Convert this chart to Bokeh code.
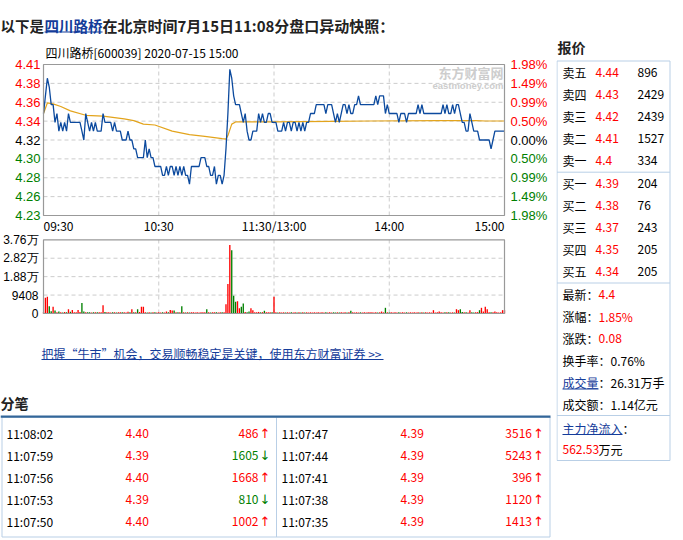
from bokeh.plotting import figure
from bokeh.layouts import column, row
from bokeh.models import ColumnDataSource, Range1d
from bokeh.embed import file_html
from bokeh.resources import INLINE
from bokeh.core.properties import value, field

# ---------------- data ----------------
stock_name = "四川路桥"
stock_code = "600039"
snapshot_time = "2020-07-15 15:00"
prev_close = 4.32

# one price per minute, 09:30 ... 11:30/13:00 ... 15:00 (241 points)
price = [
    4.35, 4.37, 4.39, 4.38, 4.36, 4.36, 4.34, 4.35, 4.33, 4.34,
    4.33, 4.34, 4.33, 4.35, 4.34, 4.34, 4.34, 4.34, 4.34, 4.34,
    4.33, 4.32, 4.35, 4.34, 4.33, 4.34, 4.33, 4.34, 4.33, 4.33,
    4.33, 4.35, 4.34, 4.34, 4.34, 4.34, 4.33, 4.34, 4.33, 4.33,
    4.33, 4.32, 4.32, 4.32, 4.33, 4.32, 4.32, 4.31, 4.31, 4.30,
    4.30, 4.30, 4.30, 4.32, 4.30, 4.31, 4.30, 4.30, 4.29, 4.29,
    4.29, 4.29, 4.28, 4.28, 4.29, 4.28, 4.29, 4.29, 4.28, 4.29,
    4.28, 4.29, 4.28, 4.29, 4.28, 4.28, 4.27, 4.29, 4.29, 4.29,
    4.29, 4.29, 4.30, 4.30, 4.30, 4.29, 4.29, 4.28, 4.28, 4.29,
    4.27, 4.28, 4.28, 4.27, 4.28, 4.31, 4.35, 4.40, 4.39, 4.37,
    4.36, 4.36, 4.36, 4.35, 4.34, 4.35, 4.33, 4.32, 4.32, 4.33,
    4.33, 4.33, 4.35, 4.34, 4.35, 4.34, 4.34, 4.35, 4.35, 4.34,
    4.34,
    4.34, 4.33, 4.33, 4.33, 4.34, 4.33, 4.34, 4.34, 4.33, 4.34,
    4.34, 4.33, 4.34, 4.33, 4.34, 4.33, 4.34, 4.34, 4.35, 4.35,
    4.35, 4.36, 4.36, 4.36, 4.36, 4.36, 4.35, 4.36, 4.36, 4.36,
    4.35, 4.34, 4.35, 4.34, 4.35, 4.36, 4.36, 4.35, 4.36, 4.35,
    4.35, 4.36, 4.36, 4.37, 4.36, 4.36, 4.36, 4.36, 4.36, 4.36,
    4.36, 4.36, 4.37, 4.36, 4.37, 4.37, 4.37, 4.35, 4.36, 4.35,
    4.35, 4.35, 4.35, 4.35, 4.34, 4.35, 4.35, 4.35, 4.34, 4.35,
    4.35, 4.35, 4.35, 4.35, 4.36, 4.35, 4.36, 4.35, 4.35, 4.35,
    4.35, 4.35, 4.35, 4.35, 4.35, 4.35, 4.35, 4.36, 4.35, 4.36,
    4.35, 4.35, 4.36, 4.35, 4.36, 4.36, 4.35, 4.34, 4.34, 4.33,
    4.33, 4.35, 4.34, 4.33, 4.33, 4.33, 4.32, 4.32, 4.32, 4.32,
    4.32, 4.32, 4.31, 4.32, 4.33, 4.33, 4.33, 4.33, 4.33, 4.33,
]
minutes = list(range(len(price)))

avg_minutes = [0, 2, 5, 9, 14, 22, 31, 42, 47, 52, 58, 67, 76, 84, 93, 95,
               96, 98, 100, 120, 150, 170, 205, 225, 230, 240]
avg_price = [4.350, 4.362, 4.361, 4.358, 4.353, 4.348, 4.347, 4.344, 4.342,
             4.338, 4.337, 4.330, 4.326, 4.324, 4.3215, 4.321, 4.325, 4.338,
             4.3405, 4.3405, 4.341, 4.3415, 4.342, 4.342, 4.3415, 4.3415]

volume = [
    600, 8000, 8500, 3700, 1200, 3400, 1500, 700, 1000, 600,
    500, 800, 600, 2200, 900, 1800, 700, 600, 1800, 800,
    5300, 1000, 600, 700, 600, 500, 600, 700, 600, 600,
    700, 4250, 800, 600, 600, 500, 700, 600, 500, 600,
    600, 700, 600, 500, 900, 600, 2200, 700, 700, 2200,
    800, 3400, 3400, 600, 500, 600, 500, 600, 700, 500,
    600, 500, 600, 500, 1000, 700, 1800, 1500, 1500, 700,
    600, 700, 3700, 600, 500, 600, 500, 700, 600, 500,
    600, 500, 600, 700, 600, 2200, 600, 500, 700, 600,
    600, 500, 600, 700, 600, 4750, 15000, 35000, 32300, 9000,
    5950, 6300, 2700, 3400, 5100, 800, 700, 1000, 2700, 1700,
    700, 600, 800, 600, 700, 1400, 600, 700, 600, 600,
    8500, 600, 500, 600, 500, 600, 500, 600, 500, 600,
    500, 600, 500, 600, 500, 700, 500, 600, 500, 600,
    500, 600, 500, 600, 500, 600, 500, 600, 500, 600,
    500, 600, 500, 600, 500, 600, 500, 600, 500, 600,
    1400, 600, 500, 600, 500, 600, 500, 600, 500, 600,
    700, 600, 500, 600, 500, 600, 1000, 600, 2900, 600,
    500, 600, 500, 600, 500, 600, 500, 600, 500, 600,
    500, 600, 500, 600, 500, 600, 500, 600, 500, 600,
    500, 600, 500, 1700, 500, 600, 1000, 600, 500, 600,
    700, 600, 500, 600, 500, 2200, 1700, 2200, 800, 600,
    600, 500, 1700, 600, 500, 600, 700, 1700, 2900, 1000,
    3400, 2200, 600, 700, 600, 1000, 600, 500, 600, 1700,
    1700,
]

pct_levels = [1.98, 1.485, 0.99, 0.495, 0.0, -0.495, -0.99, -1.485, -1.98]
price_tick_labels = ["4.41", "4.38", "4.36", "4.34", "4.32", "4.30", "4.28", "4.26", "4.23"]
pct_tick_labels = ["1.98%", "1.49%", "0.99%", "0.50%", "0.00%", "0.50%", "0.99%", "1.49%", "1.98%"]
time_ticks = [0, 60, 120, 180, 240]
time_tick_labels = ["09:30", "10:30", "11:30/13:00", "14:00", "15:00"]
vol_ticks = [0, 9408, 18816, 28224, 37632]
vol_tick_labels = ["0", "9408", "1.88万", "2.82万", "3.76万"]

ask_labels = ["卖五", "卖四", "卖三", "卖二", "卖一"]
ask_prices = ["4.44", "4.43", "4.42", "4.41", "4.4"]
ask_vols = ["896", "2429", "2439", "1527", "334"]
bid_labels = ["买一", "买二", "买三", "买四", "买五"]
bid_prices = ["4.39", "4.38", "4.37", "4.35", "4.34"]
bid_vols = ["204", "76", "243", "205", "205"]

stat_labels = ["最新：", "涨幅：", "涨跌：", "换手率：", "成交量", "成交额："]
stat_values = ["4.4", "1.85%", "0.08", "0.76%", "26.31万手", "1.14亿元"]
flow_label = "主力净流入"
flow_value = "562.53"
flow_unit = "万元"

trade_times = ["11:08:02", "11:07:59", "11:07:56", "11:07:53", "11:07:50",
               "11:07:47", "11:07:44", "11:07:41", "11:07:38", "11:07:35"]
trade_prices = ["4.40", "4.39", "4.40", "4.39", "4.40",
                "4.39", "4.39", "4.39", "4.39", "4.39"]
trade_vols = ["486", "1605", "1668", "810", "1002",
              "3516", "5243", "396", "1120", "1413"]
trade_dirs = ["up", "down", "up", "down", "up", "up", "up", "up", "up", "up"]

headline_parts = ["以下是", "四川路桥", "在北京时间7月15日11:08分盘口异动快照："]
link_text = "把握“牛市”机会，交易顺畅稳定是关键，使用东方财富证券 >>"

# ---------------- style / layout ----------------
RED = "#ff0000"
GREEN = "#008000"
BLACK = "#000000"
LINK = "#143c9a"
BORDER = "#b9cfe6"
FRAME = "#999999"
GRID = "#cccccc"
CN = "Noto Sans CJK SC"
AX = "Liberation Sans"
LEFT_W = 556
RIGHT_W = 127
CHART_H = 282                 # canvas rows 40 .. 322 of the page
FX0, FX1 = 43, 504            # chart frames, left / right (canvas px)
P_TOP, P_BOT = 24, 175        # price frame, top / bottom (canvas px)
V_TOP, V_BOT = 199.3, 273     # volume frame, top / bottom (canvas px)
SX = (FX1 - FX0) / 240        # pixels per minute


def base_fig(w, h, xr, yr):
    p = figure(width=w, height=h, x_range=xr, y_range=yr, min_border=0,
               x_axis_location=None, y_axis_location=None, toolbar_location=None,
               output_backend="svg", outline_line_color=None)
    p.grid.visible = False
    return p


def canvas_fig(w, h):
    return base_fig(w, h, Range1d(0, w), Range1d(h, 0))


def band_range(y0, y1, top_px, bot_px):
    k = (bot_px - top_px) / (y1 - y0)
    return Range1d(y0 - (CHART_H - bot_px) / k, y1 + top_px / k), k


def txt(p, xs, ys, texts, color=BLACK, size="12px", align="left", bold=False,
        font=CN, yr="default"):
    n = len(texts)
    src = ColumnDataSource(dict(x=xs, y=ys, t=texts,
                                c=color if isinstance(color, list) else [color] * n))
    p.text(x="x", y="y", text="t", source=src, text_color=field("c"),
           text_font=value(font), text_font_size=size, text_align=align,
           text_baseline="middle", text_font_style="bold" if bold else "normal",
           y_range_name=yr)


def grid_lines(p, y0, y1, yticks, yr):
    inner_t = time_ticks[1:-1]
    p.segment(x0=inner_t, y0=[y0] * len(inner_t), x1=inner_t, y1=[y1] * len(inner_t),
              line_color=GRID, line_dash="4 3", line_width=1, y_range_name=yr)
    p.segment(x0=[0] * len(yticks), y0=yticks, x1=[240] * len(yticks), y1=yticks,
              line_color=GRID, line_dash="4 3", line_width=1, y_range_name=yr)


def frame(p, y0, y1, yr):
    p.quad(left=[0], right=[240], bottom=[y0], top=[y1], fill_color=None,
           line_color=FRAME, line_width=1.2, y_range_name=yr)


# ---------------- header ----------------
head = canvas_fig(LEFT_W, 40)
txt(head, [0], [24.5], [headline_parts[0]], color="#222222", size="14.5px", bold=True)
txt(head, [44], [24.5], [headline_parts[1]], color=LINK, size="14.5px", bold=True)
head.segment(x0=[44], y0=[31.5], x1=[102], y1=[31.5], line_color=LINK, line_width=1)
txt(head, [102], [24.5], [headline_parts[2]], color="#222222", size="15px", bold=True)

# ---------------- price + volume chart (one canvas, two y ranges) ----------------
lo = prev_close * (1 - 0.0198)
hi = prev_close * (1 + 0.0198)
vmax = vol_ticks[-1]
price_range, kp = band_range(lo, hi, P_TOP, P_BOT)
vol_range, kv = band_range(0, vmax, V_TOP, V_BOT)
xr = Range1d(-FX0 / SX, 240 + (LEFT_W - FX1) / SX)
ch = base_fig(LEFT_W, CHART_H, xr, price_range)
ch.extra_y_ranges = {"vol": vol_range}

tick_y = [prev_close * (1 + v / 100) for v in pct_levels]
tick_colors = [RED if v > 0 else (GREEN if v < 0 else BLACK) for v in pct_levels]
grid_lines(ch, lo, hi, tick_y[1:-1], "default")

txt(ch, [240 - 1 / SX], [hi - 8 / kp], ["东方财富网"], color="#cdcdcd", size="13px",
    align="right", bold=True)
txt(ch, [240 - 1 / SX], [hi - 21 / kp], ["eastmoney.com"], color="#cdcdcd", size="9.5px",
    align="right", bold=True, font=AX)

ch.line(avg_minutes, avg_price, line_color="#e3a41c", line_width=1.2)
ch.line(minutes, price, line_color="#0c4a9e", line_width=1.3)
frame(ch, lo, hi, "default")

txt(ch, [-3 / SX] * len(tick_y), tick_y, price_tick_labels, color=tick_colors,
    size="13px", align="right", font=AX)
txt(ch, [240 + 6 / SX] * len(tick_y), tick_y, pct_tick_labels, color=tick_colors,
    size="13px", align="left", font=AX)
aligns = ["left", "center", "center", "center", "right"]
for t, lab, a in zip(time_ticks, time_tick_labels, aligns):
    txt(ch, [t], [lo - 10 / kp], [lab], align=a)
txt(ch, [2 / SX], [hi + 12 / kp], [f"{stock_name}[{stock_code}] {snapshot_time}"])

# volume
grid_lines(ch, 0, vmax, vol_ticks[1:-1], "vol")
bar_colors = [RED if i == 0 or price[i] >= price[i - 1] else GREEN for i in minutes]
ch.vbar(x=minutes, bottom=0, top=volume, width=0.7, fill_color=bar_colors,
        line_color=None, y_range_name="vol")
frame(ch, 0, vmax, "vol")
txt(ch, [-5 / SX] * len(vol_ticks), vol_ticks, vol_tick_labels, size="12px",
    align="right", font=AX, yr="vol")

# ---------------- bottom: link + trades ----------------
bot = canvas_fig(LEFT_W, 218)
txt(bot, [41], [31], [link_text], color=LINK, size="12px")
bot.segment(x0=[41], y0=[37], x1=[383], y1=[37], line_color=LINK, line_width=1)
txt(bot, [0], [80], ["分笔"], color="#222222", size="14px", bold=True)
bot.quad(left=[1.5], right=[549.5], top=[94.5], bottom=[214.5], fill_color=None,
         line_color=BORDER, line_width=1)
bot.segment(x0=[276], y0=[94.5], x1=[276], y1=[214.5], line_color=BORDER, line_width=1)
bot.segment(x0=[0], y0=[94.2], x1=[550], y1=[94.2], line_color="#336699", line_width=2.2)
row_y = [111.3, 133, 154.7, 177, 198.7]
for half, (tx, px, vx) in enumerate([(6, 125, 258), (281, 400, 531.5)]):
    sl = slice(half * 5, half * 5 + 5)
    cols = [RED if d == "up" else GREEN for d in trade_dirs[sl]]
    arrows = ["↑" if d == "up" else "↓" for d in trade_dirs[sl]]
    txt(bot, [tx] * 5, row_y, trade_times[sl], color=BLACK)
    txt(bot, [px] * 5, row_y, trade_prices[sl], color=RED)
    txt(bot, [vx] * 5, row_y, trade_vols[sl], color=cols, align="right")
    txt(bot, [vx + 1] * 5, row_y, arrows, color=cols, size="13px", font="DejaVu Sans")

# ---------------- right panel ----------------
pan = canvas_fig(RIGHT_W, 540)
txt(pan, [1], [46.7], ["报价"], color="#222222", size="14px", bold=True)
pan.quad(left=[0.5], right=[113.5], top=[60.5], bottom=[460], fill_color=None,
         line_color=BORDER, line_width=1)
pan.segment(x0=[0.5] * 3, y0=[171.7, 282.5, 415], x1=[113.5] * 3, y1=[171.7, 282.5, 415],
            line_color=BORDER, line_width=1)
ask_y = [72.3 + 22 * k for k in range(5)]
bid_y = [183.3 + 22 * k for k in range(5)]
for labs, prs, vols, ys in [(ask_labels, ask_prices, ask_vols, ask_y),
                            (bid_labels, bid_prices, bid_vols, bid_y)]:
    txt(pan, [6] * 5, ys, labs, color=BLACK)
    txt(pan, [39] * 5, ys, prs, color=RED)
    txt(pan, [81] * 5, ys, vols, color=BLACK)
stat_y = [294, 316, 337.7, 360, 382.3, 404.3]
stat_x = [42, 42, 42, 54, 54, 54]
stat_col = [RED, RED, RED, BLACK, BLACK, BLACK]
for i in range(6):
    if i == 4:
        txt(pan, [6], [stat_y[i]], [stat_labels[i]], color=LINK)
        pan.segment(x0=[6], y0=[388.5], x1=[42], y1=[388.5], line_color=LINK, line_width=1)
        txt(pan, [42], [stat_y[i]], ["："], color=BLACK)
    else:
        txt(pan, [6], [stat_y[i]], [stat_labels[i]], color=BLACK)
    txt(pan, [stat_x[i]], [stat_y[i]], [stat_values[i]], color=stat_col[i])
txt(pan, [6], [427.5], [flow_label], color=LINK)
pan.segment(x0=[6], y0=[434], x1=[66], y1=[434], line_color=LINK, line_width=1)
txt(pan, [66], [427.5], ["："], color=BLACK)
txt(pan, [6], [449], [flow_value], color=RED)
txt(pan, [42], [449], [flow_unit], color=BLACK)

layout = row(column(head, ch, bot), pan)
open("out.html", "w").write(file_html(layout, INLINE))
